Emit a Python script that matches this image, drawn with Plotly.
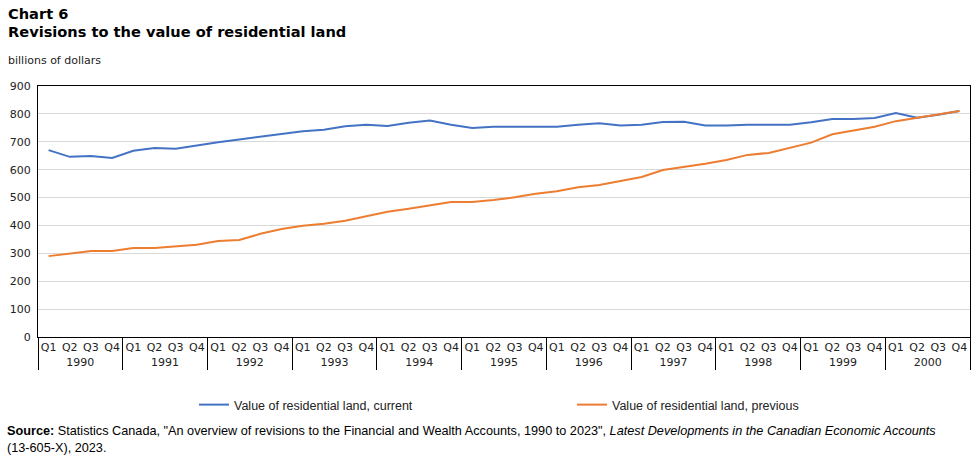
import plotly.graph_objects as go

years = ["1990", "1991", "1992", "1993", "1994", "1995", "1996", "1997", "1998", "1999", "2000"]
quarters = ["Q1", "Q2", "Q3", "Q4"]

current = [670, 646, 649, 642, 668, 678, 675, 687,
           698, 708, 718, 729, 738, 743, 756, 761,
           757, 768, 776, 761, 749, 754, 754, 754,
           754, 761, 766, 758, 761, 771, 772, 758,
           758, 761, 761, 761, 770, 782, 782, 785,
           803, 786, 797, 810]
previous = [290, 299, 308, 308, 319, 319, 324, 331,
            344, 348, 370, 387, 399, 406, 417, 432,
            449, 460, 473, 484, 484, 491, 501, 514,
            523, 537, 545, 560, 574, 599, 609, 621,
            635, 653, 660, 679, 697, 727, 740, 754,
            774, 786, 797, 810]

series_names = ["Value of residential land, current", "Value of residential land, previous"]
y_ticks = [0, 100, 200, 300, 400, 500, 600, 700, 800, 900]

x_years = [y for y in years for _ in quarters]
x_q = [q for _ in years for q in quarters]

FONT = "Verdana, DejaVu Sans, sans-serif"
NARROW = "Liberation Sans Narrow, Arial Narrow, Liberation Sans, sans-serif"

PW, PH = 932, 251

fig = go.Figure()
fig.add_trace(go.Scatter(x=[x_years, x_q], y=current, mode="lines", name=series_names[0],
                         line=dict(color="#4472C4", width=2), legend="legend"))
fig.add_trace(go.Scatter(x=[x_years, x_q], y=previous, mode="lines", name=series_names[1],
                         line=dict(color="#ED7D31", width=2), legend="legend2"))

leg_common = dict(orientation="h", yanchor="middle", xanchor="left",
                  bgcolor="rgba(0,0,0,0)",
                  font=dict(family=NARROW, size=12.5, color="#222222"))

fig.update_layout(
    width=979, height=457,
    margin=dict(l=38, r=9, t=86, b=120),
    paper_bgcolor="white", plot_bgcolor="white",
    font=dict(family=FONT, size=11, color="#222222"),
    showlegend=True,
    legend=dict(x=(194 - 38) / PW, y=-(405 - 337) / PH, **leg_common),
    legend2=dict(x=(572 - 38) / PW, y=-(405 - 337) / PH, **leg_common),
    xaxis=dict(type="multicategory", range=[-0.5, 43.5], showline=True, linecolor="black",
               linewidth=1, mirror=True, showgrid=False, ticks="", showdividers=True,
               dividercolor="black", dividerwidth=1, tickangle=0,
               tickfont=dict(family=FONT, size=11, color="#222222")),
    yaxis=dict(range=[0, 900], tickvals=y_ticks, showline=True, linecolor="black",
               linewidth=1, mirror=True, showgrid=True, gridcolor="#d9d9d9",
               gridwidth=1, zeroline=False, ticks="", ticklabelstandoff=4,
               tickfont=dict(family=FONT, size=11, color="#222222")),
)

def ann(x_px, y_px, text, font, anchor="middle"):
    fig.add_annotation(xref="paper", yref="paper", x=(x_px - 38) / PW, y=(337 - y_px) / PH,
                       xanchor="left", yanchor=anchor, showarrow=False, align="left",
                       text=text, font=font)

ann(6, 13, "<b>Chart 6</b>", dict(family=FONT, size=14.6, color="#000000"))
ann(6, 32, "<b>Revisions to the value of residential land</b>", dict(family=FONT, size=14.6, color="#000000"))
ann(6, 60, "billions of dollars", dict(family=FONT, size=11, color="#222222"))
ann(5, 439, ("<b>Source:</b> Statistics Canada, \"An overview of revisions to the Financial and Wealth Accounts, 1990 to 2023\", "
             "<i>Latest Developments in the Canadian Economic Accounts</i><br>(13-605-X), 2023."),
    dict(family=NARROW, size=12.7, color="#000000"))

fig.write_html("out.html")
